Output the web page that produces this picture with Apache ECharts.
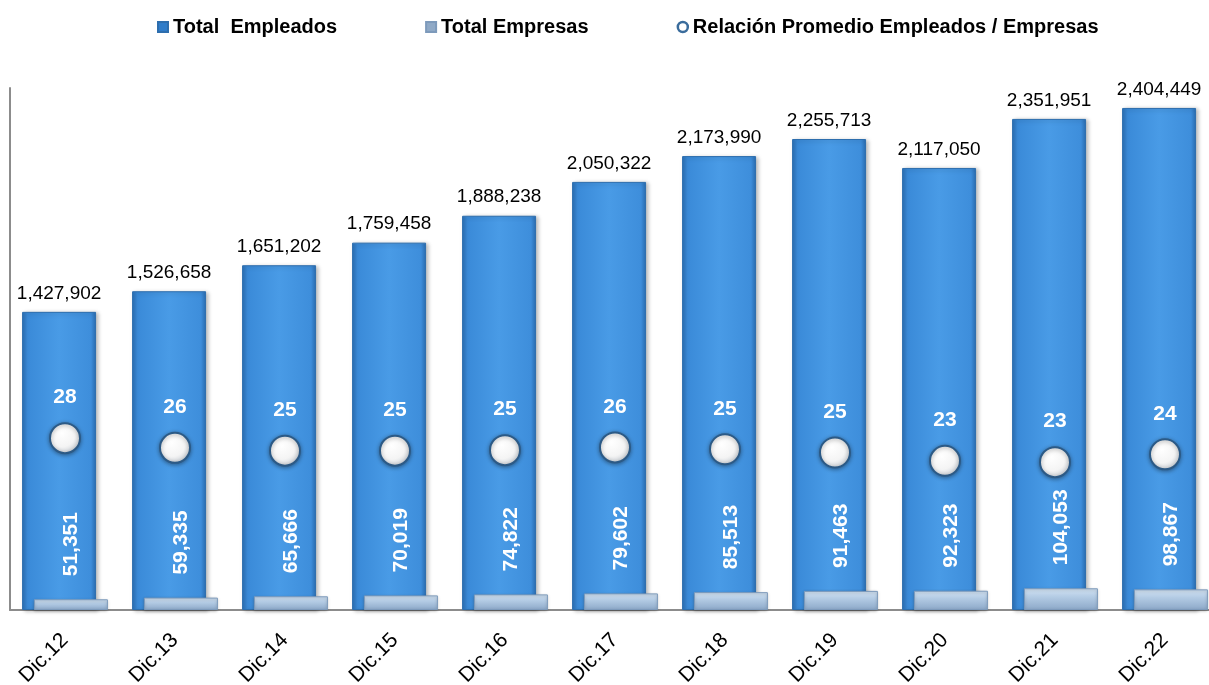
<!DOCTYPE html>
<html>
<head>
<meta charset="utf-8">
<script src="https://cdn.jsdelivr.net/npm/echarts@6/dist/echarts.min.js"></script>
<style>
html,body{margin:0;padding:0;background:#fff;}
#chart{width:1209px;height:685px;}
</style>
</head>
<body>
<div id="chart"></div>
<script>
var categories = ['Dic.12','Dic.13','Dic.14','Dic.15','Dic.16','Dic.17','Dic.18','Dic.19','Dic.20','Dic.21','Dic.22'];
var totalEmpleados = [1427902,1526658,1651202,1759458,1888238,2050322,2173990,2255713,2117050,2351951,2404449];
var totalEmpresas = [51351,59335,65666,70019,74822,79602,85513,91463,92323,104053,98867];
var relacion = [27.8,25.7,25.1,25.1,25.2,25.8,25.4,24.7,22.9,22.6,24.3];

var fmt = function (v) { return Math.round(v).toLocaleString('en-US'); };
var FONT = 'Liberation Sans, Arial, sans-serif';

var chart = echarts.init(document.getElementById('chart'));
chart.setOption({
  animation: false,
  textStyle: { fontFamily: FONT },
  legend: {
    top: 12,
    left: 152,
    itemGap: 88,
    itemWidth: 10,
    itemHeight: 10,
    textStyle: { fontFamily: FONT, fontWeight: 'bold', fontSize: 20, color: '#000' },
    data: [
      { name: 'Total  Empleados', icon: 'rect', itemStyle: { color: '#2f7cc9' } },
      { name: 'Total Empresas', icon: 'rect', itemStyle: { color: '#8fa9c6' } },
      { name: 'Relación Promedio Empleados / Empresas', icon: 'circle', itemStyle: { color: '#ffffff', borderColor: '#3a6c9c', borderWidth: 2.5 } }
    ]
  },
  grid: { left: 10, right: -11, top: 88, bottom: 75, containLabel: false, outerBoundsMode: 'none' },
  xAxis: {
    type: 'category',
    data: categories,
    axisLine: { show: true, lineStyle: { color: '#8c8c8c', width: 2 } },
    axisTick: { show: false },
    axisLabel: { rotate: 45, fontSize: 21, color: '#000', margin: 27, fontFamily: FONT }
  },
  yAxis: [
    {
      type: 'value', min: 0, max: 2500000,
      axisLine: { show: true, lineStyle: { color: '#8c8c8c', width: 2 } },
      axisTick: { show: false }, axisLabel: { show: false }, splitLine: { show: false }
    },
    {
      type: 'value', min: -9.4, max: 103.6, show: false,
      splitLine: { show: false }
    }
  ],
  series: [
    {
      name: 'Total  Empleados',
      type: 'bar',
      data: totalEmpleados,
      barWidth: 74,
      barGap: '-84%',
      itemStyle: {
        color: new echarts.graphic.LinearGradient(0, 0, 1, 0, [
          { offset: 0, color: '#2b6fb5' },
          { offset: 0.07, color: '#3a8ad8' },
          { offset: 0.5, color: '#499be6' },
          { offset: 0.93, color: '#3e8edb' },
          { offset: 1, color: '#2b6cb0' }
        ]),
        borderColor: '#2d6eae',
        borderWidth: 1,
        shadowColor: 'rgba(0,0,0,0.25)',
        shadowBlur: 4,
        shadowOffsetX: 2,
        shadowOffsetY: 1
      },
      label: {
        show: true, position: 'top', distance: 9,
        fontSize: 19, color: '#000', fontFamily: FONT,
        formatter: function (p) { return fmt(p.value); }
      },
      z: 2
    },
    {
      name: 'Total Empresas',
      type: 'bar',
      data: totalEmpresas,
      barWidth: 74,
      itemStyle: {
        color: new echarts.graphic.LinearGradient(0, 0, 0, 1, [
          { offset: 0, color: '#d3e3f3' },
          { offset: 0.4, color: '#b3cbe4' },
          { offset: 1, color: '#8ca8c8' }
        ]),
        borderColor: '#7d9abb',
        borderWidth: 1,
        shadowColor: 'rgba(0,0,0,0.25)',
        shadowBlur: 3,
        shadowOffsetY: 1
      },
      label: {
        show: true, position: 'top', distance: 23,
        rotate: 90, align: 'left', verticalAlign: 'middle',
        fontSize: 21, fontWeight: 'bold', color: '#fff', fontFamily: FONT,
        formatter: function (p) { return fmt(p.value); }
      },
      z: 3
    },
    {
      name: 'Relación Promedio Empleados / Empresas',
      type: 'line',
      yAxisIndex: 1,
      data: relacion,
      symbol: 'circle',
      symbolSize: 30,
      lineStyle: { width: 0, opacity: 0 },
      itemStyle: {
        color: new echarts.graphic.RadialGradient(0.4, 0.35, 0.7, [
          { offset: 0, color: '#ffffff' },
          { offset: 0.6, color: '#f4f4f4' },
          { offset: 1, color: '#c9cfd6' }
        ]),
        borderColor: '#2c5a86',
        borderWidth: 2,
        shadowColor: 'rgba(0,0,0,0.35)',
        shadowBlur: 4,
        shadowOffsetY: 1
      },
      label: {
        show: true, position: 'top', distance: 14,
        fontSize: 21, fontWeight: 'bold', color: '#fff', fontFamily: FONT,
        formatter: function (p) { return Math.round(p.value); }
      },
      z: 5
    }
  ]
});
</script>
</body>
</html>
